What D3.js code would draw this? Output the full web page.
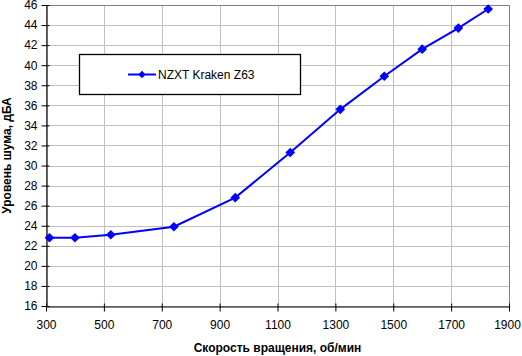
<!DOCTYPE html>
<html><head><meta charset="utf-8">
<script src="https://cdn.jsdelivr.net/npm/d3@7"></script>
<style>body{margin:0;background:#fff}svg{display:block}text{font-family:"Liberation Sans",Arial,sans-serif}</style>
</head><body>
<svg id="c" width="522" height="356"></svg>
<script>
const seriesName = "NZXT Kraken Z63";
const rpm = [312, 400, 524, 742, 954, 1144, 1317, 1469, 1600, 1725, 1828];
const noise = [22.8, 22.8, 23.1, 23.9, 26.8, 31.3, 35.6, 38.9, 41.6, 43.7, 45.6];
const xTicks = [300, 500, 700, 900, 1100, 1300, 1500, 1700, 1900];
const yTicks = [16, 18, 20, 22, 24, 26, 28, 30, 32, 34, 36, 38, 40, 42, 44, 46];
const xTitle = "Скорость вращения, об/мин";
const yTitle = "Уровень шума, дБА";

const svg = d3.select("#c");
const L = 46, R = 509, T = 5, B = 306;
const x = d3.scaleLinear().domain([300, 1900]).range([L, R]);
const y = d3.scaleLinear().domain([16, 46]).range([B, T]);

// gridlines
svg.append("g").selectAll("line").data(xTicks).join("line")
  .attr("x1", d => Math.round(x(d)) + 0.5).attr("x2", d => Math.round(x(d)) + 0.5)
  .attr("y1", T).attr("y2", B).attr("stroke", "#c0c0c0").attr("stroke-width", 1);
svg.append("g").selectAll("line").data(yTicks).join("line")
  .attr("y1", d => Math.round(y(d)) + 0.5).attr("y2", d => Math.round(y(d)) + 0.5)
  .attr("x1", L).attr("x2", R).attr("stroke", "#c0c0c0").attr("stroke-width", 1);
// plot border top/right
svg.append("path").attr("d", `M${L},${T+0.5}H${R+0.5}V${B}`).attr("fill", "none").attr("stroke", "#808080");

// axes
const fmt = d3.format("d");
const xAxis = svg.append("g").attr("transform", `translate(0,${B+0.5})`)
  .call(d3.axisBottom(x).tickValues(xTicks).tickFormat(fmt).tickSize(5).tickSizeOuter(0).tickPadding(9));
const yAxis = svg.append("g").attr("transform", `translate(${L+0.5},0)`)
  .call(d3.axisLeft(y).tickValues(yTicks).tickFormat(fmt).tickSize(5).tickSizeOuter(0).tickPadding(4));
[xAxis, yAxis].forEach(a => {
  a.selectAll("path.domain").attr("stroke", "#000").attr("stroke-width", 1.2);
  a.selectAll(".tick line").attr("stroke", "#000");
  a.selectAll("text").attr("font-family", '"Liberation Sans",Arial,sans-serif')
    .attr("font-size", 12).attr("fill", "#000");
});
xAxis.selectAll(".tick line").attr("y1", -3);
yAxis.selectAll(".tick line").attr("x1", 3);
xAxis.selectAll(".tick text").filter(d => d === 1900).attr("dx", -2);

// line
const pts = rpm.map((r, i) => [r, noise[i]]);
svg.append("path").datum(pts)
  .attr("d", d3.line().x(d => x(d[0])).y(d => y(d[1])))
  .attr("fill", "none").attr("stroke", "#0000ff").attr("stroke-width", 2);
const diamond = d3.symbol().type(d3.symbolDiamond2).size(60);
svg.append("g").selectAll("path").data(pts).join("path")
  .attr("d", diamond).attr("transform", d => `translate(${x(d[0])},${y(d[1])})`)
  .attr("fill", "#0000ff");

// titles
svg.append("text").attr("x", (L + R) / 2).attr("y", 352).attr("text-anchor", "middle")
  .attr("font-size", 12).attr("font-weight", "bold").text(xTitle);
svg.append("text").attr("transform", `translate(11,${(T + B) / 2}) rotate(-90)`)
  .attr("text-anchor", "middle").attr("font-size", 12).attr("font-weight", "bold").text(yTitle);

// legend
const lg = svg.append("g");
lg.append("rect").attr("x", 79.5).attr("y", 54.5).attr("width", 221).attr("height", 40)
  .attr("fill", "#fff").attr("stroke", "#000").attr("stroke-width", 1.3);
lg.append("line").attr("x1", 128).attr("x2", 156).attr("y1", 74.5).attr("y2", 74.5)
  .attr("stroke", "#0000ff").attr("stroke-width", 2);
lg.append("path").attr("d", d3.symbol().type(d3.symbolDiamond2).size(34))
  .attr("transform", "translate(142,74.5)").attr("fill", "#0000ff");
lg.append("text").attr("x", 158).attr("y", 79).attr("font-size", 12).text(seriesName);
</script>
</body></html>
